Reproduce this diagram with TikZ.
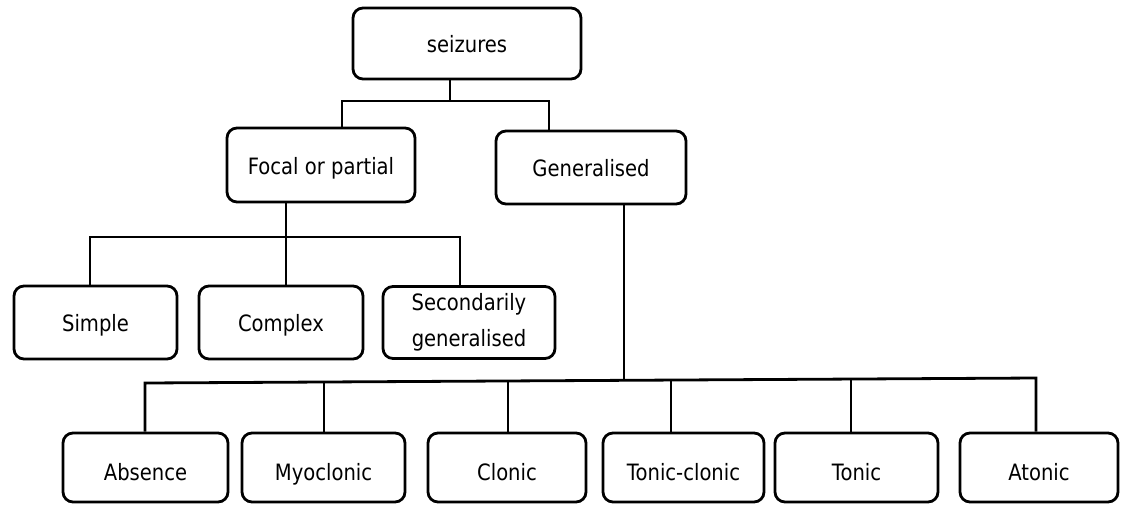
\documentclass[tikz,border=0pt]{standalone}
\usepackage{fontspec}
\setmainfont{DejaVu Sans}[FakeStretch=0.87]
\begin{document}
\begin{tikzpicture}[x=1pt,y=-1pt,
  box/.style={draw=black,line width=2.8pt,rounded corners=10pt,inner sep=0pt,
    align=center,font=\fontsize{22.5}{36}\selectfont},
  one/.style={text height=18pt,text depth=0pt},
  low/.style={text height=25pt,text depth=0pt},
  link/.style={draw=black,line width=2.8pt}]
\useasboundingbox (0,0) rectangle (1123,504);
% boxes
\node[box,one,minimum width=228pt,minimum height=71pt] (seiz) at (467,43.5) {seizures};
\node[box,one,minimum width=188pt,minimum height=74pt] (foc) at (321,165) {Focal or partial};
\node[box,one,minimum width=190pt,minimum height=73pt] (gen) at (591,167.5) {Generalised};
\node[box,one,minimum width=163pt,minimum height=73pt] (simp) at (95.5,322.5) {Simple};
\node[box,one,minimum width=164pt,minimum height=73pt] (comp) at (281,322.5) {Complex};
\node[box,minimum width=172pt,minimum height=72pt] (sec) at (469,322.5) {Secondarily\\generalised};
\node[box,low,minimum width=165pt,minimum height=69pt] (abs) at (145.5,467.5) {Absence};
\node[box,low,minimum width=163pt,minimum height=69pt] (myo) at (323.5,467.5) {Myoclonic};
\node[box,low,minimum width=158pt,minimum height=69pt] (clo) at (507,467.5) {Clonic};
\node[box,low,minimum width=161pt,minimum height=69pt] (tcl) at (683.5,467.5) {Tonic-clonic};
\node[box,low,minimum width=163pt,minimum height=69pt] (ton) at (856.5,467.5) {Tonic};
\node[box,low,minimum width=158pt,minimum height=69pt] (ato) at (1039,467.5) {Atonic};
% level 1 bar
\coordinate (b1M) at (450,101);
\coordinate (b1L) at (342,101);
\coordinate (b1R) at (549,101);
\draw[link] (seiz.south -| b1M) -- (b1M);
\draw[link] (foc.north -| b1L) -- (b1L) -- (b1R) -- (gen.north -| b1R);
% focal bar
\coordinate (b2M) at (286,237);
\coordinate (b2L) at (90,237);
\coordinate (b2R) at (460,237);
\draw[link] (foc.south -| b2M) -- (b2M);
\draw[link] (simp.north -| b2L) -- (b2L) -- (b2R) -- (sec.north -| b2R);
\draw[link] (comp.north -| b2M) -- (b2M);
% generalised bar (slightly tilted)
\coordinate (b3L) at (145,383);
\coordinate (b3R) at (1036,378);
\coordinate (b3M) at (624,380.3);
\coordinate (b3a) at (324,382);
\coordinate (b3b) at (508,381);
\coordinate (b3c) at (671,380);
\coordinate (b3d) at (851,379);
\draw[link] (gen.south -| b3M) -- (b3M);
\draw[link] (abs.north -| b3L) -- (b3L) -- (b3R) -- (ato.north -| b3R);
\draw[link] (myo.north -| b3a) -- (b3a);
\draw[link] (clo.north -| b3b) -- (b3b);
\draw[link] (tcl.north -| b3c) -- (b3c);
\draw[link] (ton.north -| b3d) -- (b3d);
\end{tikzpicture}
\end{document}
